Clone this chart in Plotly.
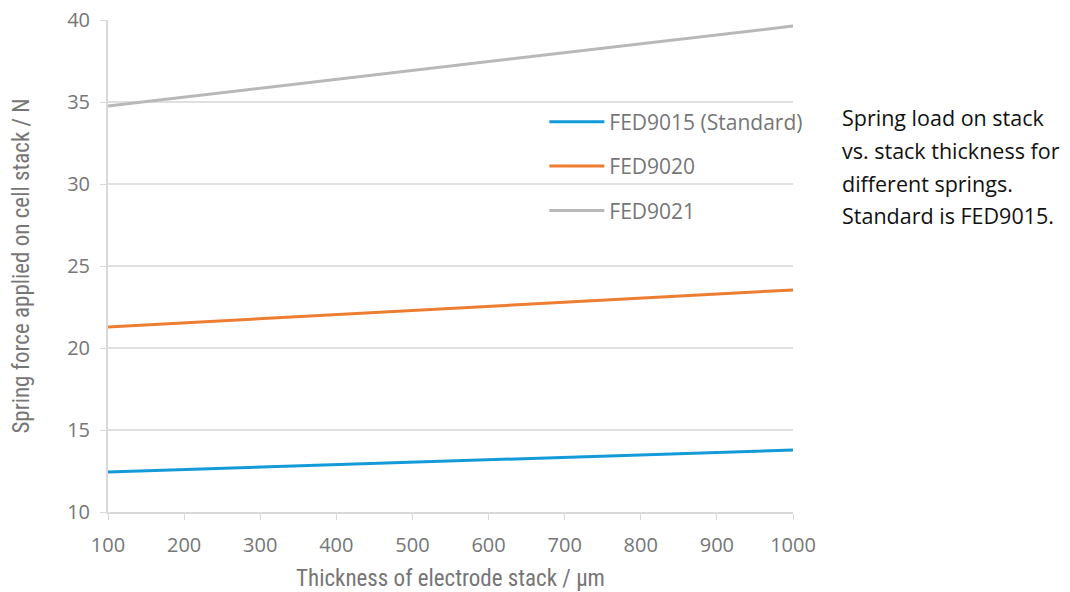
import plotly.graph_objects as go

thickness_um = [100, 1000]
fed9015 = [12.44, 13.78]
fed9020 = [21.28, 23.54]
fed9021 = [34.76, 39.63]

series_names = ["FED9015 (Standard)", "FED9020", "FED9021"]
series_vals = [fed9015, fed9020, fed9021]
colors = ["#139AD8", "#ED7D31", "#B8B8B8"]

x_ticks = [100, 200, 300, 400, 500, 600, 700, 800, 900, 1000]
y_ticks = [10, 15, 20, 25, 30, 35, 40]

note_lines = ["Spring load on stack", "vs. stack thickness for",
              "different springs.", "Standard is FED9015."]
note_y = [0.801, 0.734, 0.667, 0.602]

narrow = "Liberation Sans Narrow, Arial Narrow, Roboto Condensed, Open Sans, sans-serif"
sans = "Open Sans, sans-serif"
grey_txt = "#767676"

fig = go.Figure()
for i, (name, vals, col) in enumerate(zip(series_names, series_vals, colors)):
    fig.add_trace(go.Scatter(
        x=thickness_um, y=vals, mode="lines", name=name,
        line=dict(color=col, width=3), legendgroup=f"g{i}",
    ))

fig.update_layout(
    width=1056, height=584,
    margin=dict(l=100, r=271, t=12, b=80, autoexpand=False),
    paper_bgcolor="white", plot_bgcolor="white",
    showlegend=True,
    legend=dict(
        x=0.637, y=0.834, xanchor="left", yanchor="top",
        bgcolor="rgba(0,0,0,0)",
        font=dict(family=sans, size=21, color=grey_txt),
        traceorder="grouped", tracegroupgap=14,
        itemwidth=55,
    ),
    xaxis=dict(
        range=[100, 1000], tickvals=x_ticks, automargin=True,
        showgrid=False, zeroline=False,
        showline=True, linecolor="#D9D9D9", linewidth=2,
        ticks="outside", ticklen=6, tickcolor="#D9D9D9", tickwidth=1,
        ticklabelstandoff=8, ticklabeloverflow="allow",
        tickfont=dict(family=sans, size=20, color=grey_txt),
        title=dict(text="Thickness of electrode stack / µm",
                   font=dict(family=narrow, size=23, color=grey_txt), standoff=18),
    ),
    yaxis=dict(
        range=[10, 40], tickvals=y_ticks, automargin=True,
        showgrid=True, gridcolor="#E0E0E0", gridwidth=1.5,
        zeroline=False,
        showline=True, linecolor="#D9D9D9", linewidth=2,
        ticks="outside", ticklen=6, tickcolor="#D9D9D9", tickwidth=1,
        ticklabelstandoff=6, ticklabeloverflow="allow",
        tickfont=dict(family=sans, size=20, color=grey_txt),
        title=dict(text="Spring force applied on cell stack / N",
                   font=dict(family=narrow, size=23, color=grey_txt), standoff=32),
    ),
)

for line, yy in zip(note_lines, note_y):
    fig.add_annotation(
        text=line, xref="paper", yref="paper",
        x=1.0686, y=yy, xanchor="left", yanchor="middle", align="left",
        showarrow=False,
        font=dict(family=sans, size=21.5, color="#111111"),
    )

fig.write_html("out.html")
